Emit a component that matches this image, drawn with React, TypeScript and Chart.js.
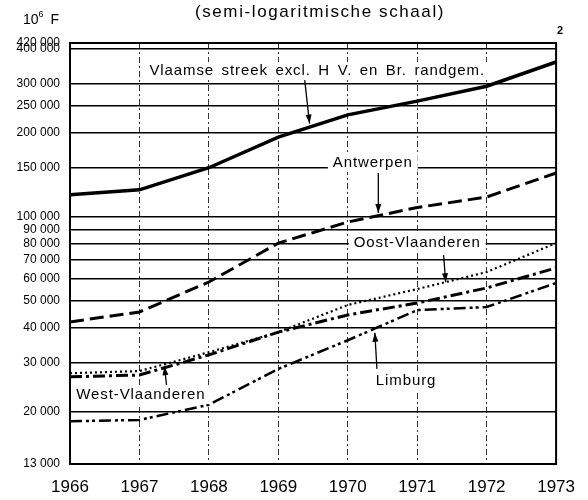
import React, { useEffect, useRef } from 'react';
import { Chart, registerables } from 'chart.js';
Chart.register(...registerables);

const years = ['1966', '1967', '1968', '1969', '1970', '1971', '1972', '1973'];
const vlaamseStreek = [120000, 125000, 150000, 193000, 232000, 260000, 294000, 359000];
const antwerpen = [42000, 45600, 58400, 80500, 95800, 108000, 117800, 143600];
const oostVlaanderen = [27500, 28000, 32700, 38600, 48300, 55100, 63400, 80500];
const westVlaanderen = [26700, 27100, 32000, 38600, 44500, 49100, 55600, 65600];
const limburg = [18500, 18700, 21200, 28500, 36100, 46300, 47500, 57900];
const yTicks = [13000, 20000, 30000, 40000, 50000, 60000, 70000, 80000, 90000, 100000, 150000, 200000, 250000, 300000, 400000, 420000];

const titleText = '(semi-logaritmische schaal)';
const unitText = 'F';
const pageNumber = '2';

// annotation labels: x in category index units, y in data units; arrow from (x1,y1) to (x2,y2)
const annotations = [
  { text: 'Vlaamse streek excl. H V. en Br. randgem.', x: 3.56, y: 333000, ws: 2.5, arrow: [3.38, 309000, 3.45, 216000] },
  { text: 'Antwerpen', x: 4.36, y: 156000, ws: 0, arrow: [4.44, 143600, 4.44, 103200] },
  { text: 'Oost-Vlaanderen', x: 5.0, y: 80500, ws: 0, arrow: [5.38, 72900, 5.41, 58300] },
  { text: 'West-Vlaanderen', x: 1.02, y: 22960, ws: 0, arrow: [1.39, 24950, 1.36, 29150] },
  { text: 'Limburg', x: 4.84, y: 25800, ws: 0, arrow: [4.42, 28500, 4.39, 38400] },
];

const FONT = '"Liberation Sans", Arial, Helvetica, sans-serif';

function fmt(v: number) {
  return String(v).replace(/\B(?=(\d{3})+(?!\d))/g, ' ');
}

function drawArrow(ctx: CanvasRenderingContext2D, x1: number, y1: number, x2: number, y2: number) {
  ctx.beginPath();
  ctx.moveTo(x1, y1);
  ctx.lineTo(x2, y2);
  ctx.lineWidth = 1.3;
  ctx.setLineDash([]);
  ctx.stroke();
  const ang = Math.atan2(y2 - y1, x2 - x1);
  const L = 9, W = 3;
  ctx.beginPath();
  ctx.moveTo(x2, y2);
  ctx.lineTo(x2 - L * Math.cos(ang) + W * Math.sin(ang), y2 - L * Math.sin(ang) - W * Math.cos(ang));
  ctx.lineTo(x2 - L * Math.cos(ang) - W * Math.sin(ang), y2 - L * Math.sin(ang) + W * Math.cos(ang));
  ctx.closePath();
  ctx.fill();
}

export default function App() {
  const ref = useRef<HTMLCanvasElement>(null);
  useEffect(() => {
    const canvas = ref.current!;
    const overlay = {
      id: 'overlay',
      afterDatasetsDraw(chart: any) {
        const ctx: CanvasRenderingContext2D = chart.ctx;
        const xs = chart.scales.x, ys = chart.scales.y;
        const { left, right, top, bottom } = chart.chartArea;
        ctx.save();
        ctx.strokeStyle = '#000';
        ctx.fillStyle = '#000';
        ctx.lineWidth = 2;
        ctx.setLineDash([]);
        ctx.strokeRect(left, top, right - left, bottom - top);

        ctx.font = `15px ${FONT}`;
        (ctx as any).letterSpacing = '0.9px';
        ctx.textAlign = 'center';
        ctx.textBaseline = 'middle';
        for (const a of annotations) {
          (ctx as any).wordSpacing = `${a.ws}px`;
          const px = xs.getPixelForValue(a.x);
          const py = ys.getPixelForValue(a.y);
          const w = ctx.measureText(a.text).width;
          ctx.fillStyle = '#fff';
          ctx.fillRect(px - w / 2 - 5, py - 9, w + 10, 18);
          ctx.fillStyle = '#000';
          ctx.fillText(a.text, px, py);
          const [ax1, ay1, ax2, ay2] = a.arrow;
          drawArrow(ctx, xs.getPixelForValue(ax1), ys.getPixelForValue(ay1), xs.getPixelForValue(ax2), ys.getPixelForValue(ay2));
        }
        (ctx as any).wordSpacing = '0px';
        (ctx as any).letterSpacing = '0px';

        // title
        ctx.font = `17px ${FONT}`;
        (ctx as any).letterSpacing = '1.6px';
        ctx.textAlign = 'center';
        ctx.textBaseline = 'middle';
        ctx.fillText(titleText, 320, 12);
        (ctx as any).letterSpacing = '0px';

        // unit 10^6 F
        ctx.textAlign = 'left';
        ctx.textBaseline = 'alphabetic';
        ctx.font = `14px ${FONT}`;
        ctx.fillText('10', 23, 24);
        const w10 = ctx.measureText('10').width;
        ctx.font = `9px ${FONT}`;
        ctx.fillText('6', 23 + w10, 17);
        ctx.font = `14px ${FONT}`;
        ctx.fillText(unitText, 23 + w10 + 12, 24);

        ctx.font = `bold 11px ${FONT}`;
        ctx.textAlign = 'center';
        ctx.fillText(pageNumber, 560, 34);
        ctx.restore();
      },
    };

    const chart = new Chart(canvas, {
      type: 'line',
      data: {
        labels: years,
        datasets: [
          { label: 'Vlaamse streek', data: vlaamseStreek, borderColor: '#000', borderWidth: 3.5, borderDash: [] },
          { label: 'Antwerpen', data: antwerpen, borderColor: '#000', borderWidth: 3, borderDash: [14, 6] },
          { label: 'Oost-Vlaanderen', data: oostVlaanderen, borderColor: '#000', borderWidth: 2.2, borderDash: [2, 3] },
          { label: 'West-Vlaanderen', data: westVlaanderen, borderColor: '#000', borderWidth: 3, borderDash: [12, 4, 3, 4] },
          { label: 'Limburg', data: limburg, borderColor: '#000', borderWidth: 2.5, borderDash: [12, 4, 3, 3, 3, 4] },
        ].map((d) => ({ ...d, pointRadius: 0, tension: 0, fill: false })),
      },
      options: {
        responsive: false,
        animation: false,
        devicePixelRatio: 1,
        layout: { padding: { top: 43, right: 25, left: 0, bottom: 0 } },
        plugins: { legend: { display: false }, tooltip: { enabled: false } },
        scales: {
          x: {
            type: 'category',
            offset: false,
            grid: { color: '#333', lineWidth: 1, drawTicks: false },
            border: { display: false, dash: [6, 3, 2, 3] },
            ticks: { color: '#000', font: { family: FONT, size: 17 }, padding: 13, maxRotation: 0, autoSkip: false },
            afterFit(s: any) { s.height = 36; },
          },
          y: {
            type: 'logarithmic',
            min: 13000,
            max: 420000,
            afterBuildTicks(s: any) { s.ticks = yTicks.map((v) => ({ value: v })); },
            grid: { color: '#000', lineWidth: 1.5, drawTicks: false },
            border: { display: false },
            ticks: { color: '#000', font: { family: FONT, size: 12 }, padding: 10, autoSkip: false, callback: (v: any) => fmt(Number(v)) },
            afterFit(s: any) { s.width = 70; },
          },
        },
      },
      plugins: [overlay],
    } as any);
    return () => chart.destroy();
  }, []);
  return (
    <div style={{ position: 'absolute', left: 0, top: 0, width: 588, height: 500, background: '#fff' }}>
      <canvas ref={ref} width={588} height={500} />
    </div>
  );
}
